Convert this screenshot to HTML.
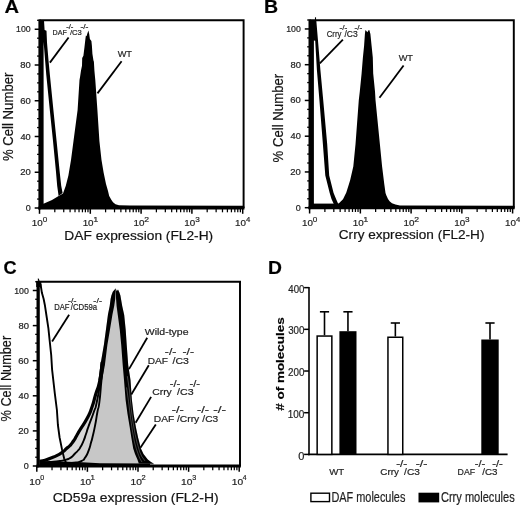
<!DOCTYPE html><html><head><meta charset="utf-8"><style>html,body{margin:0;padding:0;background:#fff;overflow:hidden;}svg{display:block;will-change:transform;}text{font-family:"Liberation Sans", sans-serif;stroke:currentColor;stroke-width:0.2px;color:#222;}</style></head><body>
<svg width="520" height="505" viewBox="0 0 520 505">
<rect width="520" height="505" fill="#fff"/>
<polygon points="40,207 41,204.5 44,203.5 52,200 58.6,196 63,193.5 65.8,185.7 68.4,175.4 71,160 73.5,141 77.6,110 79.5,80 80.2,76 81,70.6 82,65.7 82.2,58 83.4,55.8 84.4,47.8 85.4,38.9 85.9,35.4 86.6,36.2 87.2,34 88.4,30.5 89.2,34 89.9,38.9 91.4,40.9 91.9,45.8 92.4,53.8 93.4,60.2 93.9,61.7 94.4,70.6 94.9,76 95.3,80 97.4,110 99.4,141 101.5,160 103.6,172.4 106,184 108,191 109.2,196 111.3,199.8 113,202.3 115.5,204.2 119,205.2 130,205.6 243,205.8 243,208 40,208" fill="#000"/>
<polygon points="39.5,20.5 44,20.5 44.6,30 46.5,30.8 47,42.4 48.7,62.6 49.9,75 53.4,110 56.6,141 59.7,172 61.2,185.7 62.6,193 58.6,196 57.2,186 56,172 53,141 49.8,110 46.3,75 43.6,41.8 43.6,207 39.5,207" fill="#000"/>
<line x1="34.7" y1="208" x2="39.5" y2="208" stroke="#000" stroke-width="1.5"/>
<text x="25.74" y="211" font-size="8.3" textLength="5.01" lengthAdjust="spacingAndGlyphs" fill="#1e1e1e">0</text>
<line x1="37.1" y1="199.06" x2="39.5" y2="199.06" stroke="#000" stroke-width="1.3"/>
<line x1="37.1" y1="190.12" x2="39.5" y2="190.12" stroke="#000" stroke-width="1.3"/>
<line x1="37.1" y1="181.19" x2="39.5" y2="181.19" stroke="#000" stroke-width="1.3"/>
<line x1="34.7" y1="172.25" x2="39.5" y2="172.25" stroke="#000" stroke-width="1.5"/>
<text x="20.23" y="175.25" font-size="8.3" textLength="10.55" lengthAdjust="spacingAndGlyphs" fill="#1e1e1e">20</text>
<line x1="37.1" y1="163.31" x2="39.5" y2="163.31" stroke="#000" stroke-width="1.3"/>
<line x1="37.1" y1="154.38" x2="39.5" y2="154.38" stroke="#000" stroke-width="1.3"/>
<line x1="37.1" y1="145.44" x2="39.5" y2="145.44" stroke="#000" stroke-width="1.3"/>
<line x1="34.7" y1="136.5" x2="39.5" y2="136.5" stroke="#000" stroke-width="1.5"/>
<text x="20.49" y="139.5" font-size="8.3" textLength="10.28" lengthAdjust="spacingAndGlyphs" fill="#1e1e1e">40</text>
<line x1="37.1" y1="127.56" x2="39.5" y2="127.56" stroke="#000" stroke-width="1.3"/>
<line x1="37.1" y1="118.62" x2="39.5" y2="118.62" stroke="#000" stroke-width="1.3"/>
<line x1="37.1" y1="109.69" x2="39.5" y2="109.69" stroke="#000" stroke-width="1.3"/>
<line x1="34.7" y1="100.75" x2="39.5" y2="100.75" stroke="#000" stroke-width="1.5"/>
<text x="20.23" y="103.75" font-size="8.3" textLength="10.55" lengthAdjust="spacingAndGlyphs" fill="#1e1e1e">60</text>
<line x1="37.1" y1="91.81" x2="39.5" y2="91.81" stroke="#000" stroke-width="1.3"/>
<line x1="37.1" y1="82.88" x2="39.5" y2="82.88" stroke="#000" stroke-width="1.3"/>
<line x1="37.1" y1="73.94" x2="39.5" y2="73.94" stroke="#000" stroke-width="1.3"/>
<line x1="34.7" y1="65" x2="39.5" y2="65" stroke="#000" stroke-width="1.5"/>
<text x="20.3" y="68" font-size="8.3" textLength="10.48" lengthAdjust="spacingAndGlyphs" fill="#1e1e1e">80</text>
<line x1="37.1" y1="56.06" x2="39.5" y2="56.06" stroke="#000" stroke-width="1.3"/>
<line x1="37.1" y1="47.12" x2="39.5" y2="47.12" stroke="#000" stroke-width="1.3"/>
<line x1="37.1" y1="38.19" x2="39.5" y2="38.19" stroke="#000" stroke-width="1.3"/>
<line x1="34.7" y1="29.25" x2="39.5" y2="29.25" stroke="#000" stroke-width="1.5"/>
<text x="16.14" y="32.25" font-size="8.3" textLength="14.59" lengthAdjust="spacingAndGlyphs" fill="#1e1e1e">100</text>
<line x1="37.1" y1="20.31" x2="39.5" y2="20.31" stroke="#000" stroke-width="1.3"/>
<line x1="54.79" y1="208" x2="54.79" y2="212.3" stroke="#000" stroke-width="1.25"/>
<line x1="63.74" y1="208" x2="63.74" y2="212.3" stroke="#000" stroke-width="1.25"/>
<line x1="70.08" y1="208" x2="70.08" y2="212.3" stroke="#000" stroke-width="1.25"/>
<line x1="75.01" y1="208" x2="75.01" y2="212.3" stroke="#000" stroke-width="1.25"/>
<line x1="79.03" y1="208" x2="79.03" y2="212.3" stroke="#000" stroke-width="1.25"/>
<line x1="82.43" y1="208" x2="82.43" y2="212.3" stroke="#000" stroke-width="1.25"/>
<line x1="85.38" y1="208" x2="85.38" y2="212.3" stroke="#000" stroke-width="1.25"/>
<line x1="87.98" y1="208" x2="87.98" y2="212.3" stroke="#000" stroke-width="1.25"/>
<line x1="105.59" y1="208" x2="105.59" y2="212.3" stroke="#000" stroke-width="1.25"/>
<line x1="114.54" y1="208" x2="114.54" y2="212.3" stroke="#000" stroke-width="1.25"/>
<line x1="120.88" y1="208" x2="120.88" y2="212.3" stroke="#000" stroke-width="1.25"/>
<line x1="125.81" y1="208" x2="125.81" y2="212.3" stroke="#000" stroke-width="1.25"/>
<line x1="129.83" y1="208" x2="129.83" y2="212.3" stroke="#000" stroke-width="1.25"/>
<line x1="133.23" y1="208" x2="133.23" y2="212.3" stroke="#000" stroke-width="1.25"/>
<line x1="136.18" y1="208" x2="136.18" y2="212.3" stroke="#000" stroke-width="1.25"/>
<line x1="138.78" y1="208" x2="138.78" y2="212.3" stroke="#000" stroke-width="1.25"/>
<line x1="156.39" y1="208" x2="156.39" y2="212.3" stroke="#000" stroke-width="1.25"/>
<line x1="165.34" y1="208" x2="165.34" y2="212.3" stroke="#000" stroke-width="1.25"/>
<line x1="171.68" y1="208" x2="171.68" y2="212.3" stroke="#000" stroke-width="1.25"/>
<line x1="176.61" y1="208" x2="176.61" y2="212.3" stroke="#000" stroke-width="1.25"/>
<line x1="180.63" y1="208" x2="180.63" y2="212.3" stroke="#000" stroke-width="1.25"/>
<line x1="184.03" y1="208" x2="184.03" y2="212.3" stroke="#000" stroke-width="1.25"/>
<line x1="186.98" y1="208" x2="186.98" y2="212.3" stroke="#000" stroke-width="1.25"/>
<line x1="189.58" y1="208" x2="189.58" y2="212.3" stroke="#000" stroke-width="1.25"/>
<line x1="207.19" y1="208" x2="207.19" y2="212.3" stroke="#000" stroke-width="1.25"/>
<line x1="216.14" y1="208" x2="216.14" y2="212.3" stroke="#000" stroke-width="1.25"/>
<line x1="222.48" y1="208" x2="222.48" y2="212.3" stroke="#000" stroke-width="1.25"/>
<line x1="227.41" y1="208" x2="227.41" y2="212.3" stroke="#000" stroke-width="1.25"/>
<line x1="231.43" y1="208" x2="231.43" y2="212.3" stroke="#000" stroke-width="1.25"/>
<line x1="234.83" y1="208" x2="234.83" y2="212.3" stroke="#000" stroke-width="1.25"/>
<line x1="237.78" y1="208" x2="237.78" y2="212.3" stroke="#000" stroke-width="1.25"/>
<line x1="240.38" y1="208" x2="240.38" y2="212.3" stroke="#000" stroke-width="1.25"/>
<line x1="39.5" y1="208" x2="39.5" y2="213.8" stroke="#000" stroke-width="1.5"/>
<text x="31.86" y="226.4" font-size="9.2" textLength="10.93" lengthAdjust="spacingAndGlyphs" fill="#1e1e1e">10</text>
<text x="42.77" y="221.8" font-size="7.6" textLength="4.54" lengthAdjust="spacingAndGlyphs" fill="#1e1e1e">0</text>
<line x1="90.3" y1="208" x2="90.3" y2="213.8" stroke="#000" stroke-width="1.5"/>
<text x="82.66" y="226.4" font-size="9.2" textLength="10.93" lengthAdjust="spacingAndGlyphs" fill="#1e1e1e">10</text>
<text x="93.22" y="221.8" font-size="7.6" textLength="5.02" lengthAdjust="spacingAndGlyphs" fill="#1e1e1e">1</text>
<line x1="141.1" y1="208" x2="141.1" y2="213.8" stroke="#000" stroke-width="1.5"/>
<text x="133.46" y="226.4" font-size="9.2" textLength="10.93" lengthAdjust="spacingAndGlyphs" fill="#1e1e1e">10</text>
<text x="144.27" y="221.8" font-size="7.6" textLength="4.77" lengthAdjust="spacingAndGlyphs" fill="#1e1e1e">2</text>
<line x1="191.9" y1="208" x2="191.9" y2="213.8" stroke="#000" stroke-width="1.5"/>
<text x="184.26" y="226.4" font-size="9.2" textLength="10.93" lengthAdjust="spacingAndGlyphs" fill="#1e1e1e">10</text>
<text x="195.19" y="221.8" font-size="7.6" textLength="4.57" lengthAdjust="spacingAndGlyphs" fill="#1e1e1e">3</text>
<line x1="242.7" y1="208" x2="242.7" y2="213.8" stroke="#000" stroke-width="1.5"/>
<text x="235.06" y="226.4" font-size="9.2" textLength="10.93" lengthAdjust="spacingAndGlyphs" fill="#1e1e1e">10</text>
<text x="246.13" y="221.8" font-size="7.6" textLength="4.3" lengthAdjust="spacingAndGlyphs" fill="#1e1e1e">4</text>
<polyline points="39.5,20.3 243.6,20.3 243.6,208" fill="none" stroke="#000" stroke-width="1.95" stroke-linejoin="miter"/>
<line x1="39.5" y1="19.45" x2="39.5" y2="209.5" stroke="#000" stroke-width="2.2"/>
<line x1="38.4" y1="208" x2="244.5" y2="208" stroke="#000" stroke-width="3"/>
<text transform="translate(12.9,0) rotate(-90)" x="-161.06" y="0" font-size="14.4" textLength="88.45" lengthAdjust="spacingAndGlyphs" fill="#111">% Cell Number</text>
<text x="64.37" y="239.6" font-size="12.3" textLength="148.81" lengthAdjust="spacingAndGlyphs" fill="#111">DAF expression (FL2-H)</text>
<text x="4.4" y="12.7" font-size="18" font-weight="bold" textLength="14.55" lengthAdjust="spacingAndGlyphs">A</text>
<text x="52.51" y="34.6" font-size="7.9" textLength="14.27" lengthAdjust="spacingAndGlyphs" fill="#1e1e1e">DAF</text>
<text x="66.15" y="28.8" font-size="7.5" textLength="7.31" lengthAdjust="spacingAndGlyphs" fill="#1e1e1e">-/-</text>
<text x="70" y="34.6" font-size="7.9" textLength="11.83" lengthAdjust="spacingAndGlyphs" fill="#1e1e1e">/C3</text>
<text x="80.41" y="28.8" font-size="7.5" textLength="8.08" lengthAdjust="spacingAndGlyphs" fill="#1e1e1e">-/-</text>
<line x1="49.9" y1="62.6" x2="68.6" y2="37.5" stroke="#000" stroke-width="1.8"/>
<text x="117.65" y="57.4" font-size="9.6" textLength="14.35" lengthAdjust="spacingAndGlyphs" fill="#1e1e1e">WT</text>
<line x1="97.5" y1="93.4" x2="121.6" y2="61.2" stroke="#000" stroke-width="1.8"/>
<rect x="313" y="203.6" width="30" height="5" fill="#000"/>
<polygon points="337.7,204.5 338.7,203.6 343,199.2 346.3,192.5 348.9,184.3 350.2,180 353.3,166.5 355.5,144.3 358.8,100 359.8,91.4 361.6,73.6 362.9,57.6 364.1,45.7 364.9,33.9 365.3,30.6 365.8,30.3 367.3,32.3 368.8,29.9 369.4,30.2 370.4,33.9 371.6,45.7 372.8,57.6 373.2,73.6 375,91.4 375.5,100 379.9,144.3 382.1,166.5 384.3,184.3 385.5,193.1 386.4,195.5 388,199 389.6,201.2 392,203.3 395.4,204.6 400,205.4 513,205.8 513,208 337,208" fill="#000"/>
<polygon points="309,20.5 316.3,20.5 318,40.8 320.4,70 323.2,100 327.2,144.3 329.2,175.4 333.6,193 336.5,200 338.5,204.5 334,204.5 331.5,199 329.7,193 325.3,175.4 322.9,144.3 319.4,100 316.9,70 315.2,40.8 313.9,40.5 313.9,207 309,207" fill="#000"/>
<line x1="304.8" y1="207.7" x2="309.6" y2="207.7" stroke="#000" stroke-width="1.5"/>
<text x="295.84" y="210.7" font-size="8.3" textLength="5.01" lengthAdjust="spacingAndGlyphs" fill="#1e1e1e">0</text>
<line x1="307.2" y1="198.76" x2="309.6" y2="198.76" stroke="#000" stroke-width="1.3"/>
<line x1="307.2" y1="189.82" x2="309.6" y2="189.82" stroke="#000" stroke-width="1.3"/>
<line x1="307.2" y1="180.89" x2="309.6" y2="180.89" stroke="#000" stroke-width="1.3"/>
<line x1="304.8" y1="171.95" x2="309.6" y2="171.95" stroke="#000" stroke-width="1.5"/>
<text x="290.33" y="174.95" font-size="8.3" textLength="10.55" lengthAdjust="spacingAndGlyphs" fill="#1e1e1e">20</text>
<line x1="307.2" y1="163.01" x2="309.6" y2="163.01" stroke="#000" stroke-width="1.3"/>
<line x1="307.2" y1="154.07" x2="309.6" y2="154.07" stroke="#000" stroke-width="1.3"/>
<line x1="307.2" y1="145.14" x2="309.6" y2="145.14" stroke="#000" stroke-width="1.3"/>
<line x1="304.8" y1="136.2" x2="309.6" y2="136.2" stroke="#000" stroke-width="1.5"/>
<text x="290.59" y="139.2" font-size="8.3" textLength="10.28" lengthAdjust="spacingAndGlyphs" fill="#1e1e1e">40</text>
<line x1="307.2" y1="127.26" x2="309.6" y2="127.26" stroke="#000" stroke-width="1.3"/>
<line x1="307.2" y1="118.32" x2="309.6" y2="118.32" stroke="#000" stroke-width="1.3"/>
<line x1="307.2" y1="109.39" x2="309.6" y2="109.39" stroke="#000" stroke-width="1.3"/>
<line x1="304.8" y1="100.45" x2="309.6" y2="100.45" stroke="#000" stroke-width="1.5"/>
<text x="290.33" y="103.45" font-size="8.3" textLength="10.55" lengthAdjust="spacingAndGlyphs" fill="#1e1e1e">60</text>
<line x1="307.2" y1="91.51" x2="309.6" y2="91.51" stroke="#000" stroke-width="1.3"/>
<line x1="307.2" y1="82.57" x2="309.6" y2="82.57" stroke="#000" stroke-width="1.3"/>
<line x1="307.2" y1="73.64" x2="309.6" y2="73.64" stroke="#000" stroke-width="1.3"/>
<line x1="304.8" y1="64.7" x2="309.6" y2="64.7" stroke="#000" stroke-width="1.5"/>
<text x="290.4" y="67.7" font-size="8.3" textLength="10.48" lengthAdjust="spacingAndGlyphs" fill="#1e1e1e">80</text>
<line x1="307.2" y1="55.76" x2="309.6" y2="55.76" stroke="#000" stroke-width="1.3"/>
<line x1="307.2" y1="46.82" x2="309.6" y2="46.82" stroke="#000" stroke-width="1.3"/>
<line x1="307.2" y1="37.89" x2="309.6" y2="37.89" stroke="#000" stroke-width="1.3"/>
<line x1="304.8" y1="28.95" x2="309.6" y2="28.95" stroke="#000" stroke-width="1.5"/>
<text x="286.24" y="31.95" font-size="8.3" textLength="14.59" lengthAdjust="spacingAndGlyphs" fill="#1e1e1e">100</text>
<line x1="307.2" y1="20.01" x2="309.6" y2="20.01" stroke="#000" stroke-width="1.3"/>
<line x1="324.88" y1="207.7" x2="324.88" y2="212" stroke="#000" stroke-width="1.25"/>
<line x1="333.81" y1="207.7" x2="333.81" y2="212" stroke="#000" stroke-width="1.25"/>
<line x1="340.15" y1="207.7" x2="340.15" y2="212" stroke="#000" stroke-width="1.25"/>
<line x1="345.07" y1="207.7" x2="345.07" y2="212" stroke="#000" stroke-width="1.25"/>
<line x1="349.09" y1="207.7" x2="349.09" y2="212" stroke="#000" stroke-width="1.25"/>
<line x1="352.49" y1="207.7" x2="352.49" y2="212" stroke="#000" stroke-width="1.25"/>
<line x1="355.43" y1="207.7" x2="355.43" y2="212" stroke="#000" stroke-width="1.25"/>
<line x1="358.03" y1="207.7" x2="358.03" y2="212" stroke="#000" stroke-width="1.25"/>
<line x1="375.63" y1="207.7" x2="375.63" y2="212" stroke="#000" stroke-width="1.25"/>
<line x1="384.56" y1="207.7" x2="384.56" y2="212" stroke="#000" stroke-width="1.25"/>
<line x1="390.9" y1="207.7" x2="390.9" y2="212" stroke="#000" stroke-width="1.25"/>
<line x1="395.82" y1="207.7" x2="395.82" y2="212" stroke="#000" stroke-width="1.25"/>
<line x1="399.84" y1="207.7" x2="399.84" y2="212" stroke="#000" stroke-width="1.25"/>
<line x1="403.24" y1="207.7" x2="403.24" y2="212" stroke="#000" stroke-width="1.25"/>
<line x1="406.18" y1="207.7" x2="406.18" y2="212" stroke="#000" stroke-width="1.25"/>
<line x1="408.78" y1="207.7" x2="408.78" y2="212" stroke="#000" stroke-width="1.25"/>
<line x1="426.38" y1="207.7" x2="426.38" y2="212" stroke="#000" stroke-width="1.25"/>
<line x1="435.31" y1="207.7" x2="435.31" y2="212" stroke="#000" stroke-width="1.25"/>
<line x1="441.65" y1="207.7" x2="441.65" y2="212" stroke="#000" stroke-width="1.25"/>
<line x1="446.57" y1="207.7" x2="446.57" y2="212" stroke="#000" stroke-width="1.25"/>
<line x1="450.59" y1="207.7" x2="450.59" y2="212" stroke="#000" stroke-width="1.25"/>
<line x1="453.99" y1="207.7" x2="453.99" y2="212" stroke="#000" stroke-width="1.25"/>
<line x1="456.93" y1="207.7" x2="456.93" y2="212" stroke="#000" stroke-width="1.25"/>
<line x1="459.53" y1="207.7" x2="459.53" y2="212" stroke="#000" stroke-width="1.25"/>
<line x1="477.13" y1="207.7" x2="477.13" y2="212" stroke="#000" stroke-width="1.25"/>
<line x1="486.06" y1="207.7" x2="486.06" y2="212" stroke="#000" stroke-width="1.25"/>
<line x1="492.4" y1="207.7" x2="492.4" y2="212" stroke="#000" stroke-width="1.25"/>
<line x1="497.32" y1="207.7" x2="497.32" y2="212" stroke="#000" stroke-width="1.25"/>
<line x1="501.34" y1="207.7" x2="501.34" y2="212" stroke="#000" stroke-width="1.25"/>
<line x1="504.74" y1="207.7" x2="504.74" y2="212" stroke="#000" stroke-width="1.25"/>
<line x1="507.68" y1="207.7" x2="507.68" y2="212" stroke="#000" stroke-width="1.25"/>
<line x1="510.28" y1="207.7" x2="510.28" y2="212" stroke="#000" stroke-width="1.25"/>
<line x1="309.6" y1="207.7" x2="309.6" y2="213.5" stroke="#000" stroke-width="1.5"/>
<text x="301.96" y="226.4" font-size="9.2" textLength="10.93" lengthAdjust="spacingAndGlyphs" fill="#1e1e1e">10</text>
<text x="312.87" y="221.8" font-size="7.6" textLength="4.54" lengthAdjust="spacingAndGlyphs" fill="#1e1e1e">0</text>
<line x1="360.35" y1="207.7" x2="360.35" y2="213.5" stroke="#000" stroke-width="1.5"/>
<text x="352.71" y="226.4" font-size="9.2" textLength="10.93" lengthAdjust="spacingAndGlyphs" fill="#1e1e1e">10</text>
<text x="363.27" y="221.8" font-size="7.6" textLength="5.02" lengthAdjust="spacingAndGlyphs" fill="#1e1e1e">1</text>
<line x1="411.1" y1="207.7" x2="411.1" y2="213.5" stroke="#000" stroke-width="1.5"/>
<text x="403.46" y="226.4" font-size="9.2" textLength="10.93" lengthAdjust="spacingAndGlyphs" fill="#1e1e1e">10</text>
<text x="414.27" y="221.8" font-size="7.6" textLength="4.77" lengthAdjust="spacingAndGlyphs" fill="#1e1e1e">2</text>
<line x1="461.85" y1="207.7" x2="461.85" y2="213.5" stroke="#000" stroke-width="1.5"/>
<text x="454.21" y="226.4" font-size="9.2" textLength="10.93" lengthAdjust="spacingAndGlyphs" fill="#1e1e1e">10</text>
<text x="465.14" y="221.8" font-size="7.6" textLength="4.57" lengthAdjust="spacingAndGlyphs" fill="#1e1e1e">3</text>
<line x1="512.6" y1="207.7" x2="512.6" y2="213.5" stroke="#000" stroke-width="1.5"/>
<text x="504.96" y="226.4" font-size="9.2" textLength="10.93" lengthAdjust="spacingAndGlyphs" fill="#1e1e1e">10</text>
<text x="516.03" y="221.8" font-size="7.6" textLength="4.3" lengthAdjust="spacingAndGlyphs" fill="#1e1e1e">4</text>
<polyline points="309.6,20.3 513.8,20.3 513.8,207.7" fill="none" stroke="#000" stroke-width="1.95" stroke-linejoin="miter"/>
<line x1="309.6" y1="19.45" x2="309.6" y2="209.2" stroke="#000" stroke-width="2.2"/>
<line x1="308.5" y1="207.7" x2="514.7" y2="207.7" stroke="#000" stroke-width="3"/>
<line x1="315.5" y1="17.3" x2="315.5" y2="21" stroke="#000" stroke-width="1.1"/>
<text transform="translate(282.9,0) rotate(-90)" x="-162.46" y="0" font-size="14.4" textLength="88.65" lengthAdjust="spacingAndGlyphs" fill="#111">% Cell Number</text>
<text x="338.82" y="239.4" font-size="12.3" textLength="145.62" lengthAdjust="spacingAndGlyphs" fill="#111">Crry expression (FL2-H)</text>
<text x="264.08" y="12.6" font-size="18" font-weight="bold" textLength="14.09" lengthAdjust="spacingAndGlyphs">B</text>
<text x="326.71" y="36.7" font-size="8.6" textLength="14.71" lengthAdjust="spacingAndGlyphs" fill="#1e1e1e">Crry</text>
<text x="339.43" y="30" font-size="7.5" textLength="7.86" lengthAdjust="spacingAndGlyphs" fill="#1e1e1e">-/-</text>
<text x="344.4" y="36.7" font-size="8.6" textLength="13.27" lengthAdjust="spacingAndGlyphs" fill="#1e1e1e">/C3</text>
<text x="354.43" y="30" font-size="7.5" textLength="7.86" lengthAdjust="spacingAndGlyphs" fill="#1e1e1e">-/-</text>
<line x1="319.8" y1="63.3" x2="342.9" y2="39.6" stroke="#000" stroke-width="1.8"/>
<text x="398.65" y="60.9" font-size="9.6" textLength="14.35" lengthAdjust="spacingAndGlyphs" fill="#1e1e1e">WT</text>
<line x1="379.5" y1="97.7" x2="403.6" y2="65.5" stroke="#000" stroke-width="1.8"/>
<polygon points="115.6,288.5 112.8,291.7 111.4,295.5 110.6,298.9 109.7,305.9 108,314.2 105.9,329.9 103.9,344.7 100.4,365 98.5,380 95.5,395 92,407 87.3,418 79.9,430 76.5,436 73.5,441 70,445.5 66.5,448.5 62.3,452.3 56.7,455.6 51,458 45,460.2 39.5,461.3 39.5,466 154,466 154,463.8 151,462 147.8,459.6 143.5,454 140.9,448.5 138.2,438 136,427.7 133.6,414 131.9,400 130.5,380 128.2,365 126.7,344.7 125.7,329.9 124.2,315 122.2,305.9 120.4,295.5 119.4,292.4 118,289.4 116.8,291.2 115.6,288.2" fill="#c7c7c7"/>
<polygon points="102.2,362 99.9,380 95.5,395 92,407 87.3,418 79.9,430 76.5,436 73.5,441 70,445.5 66.5,448.5 62.3,452.3 56.7,455.6 51,458 45,460.2 39.5,461.3 42,462.4 50,462 60,461 66.3,459.6 70.8,457.6 75,453.5 78,450.5 80.5,447 83.5,441 86,434 88.7,425.9 93.8,412 96.8,402 100.6,380 103,362" fill="#d8d8d8"/>
<polygon points="103,362 100.6,380 96.8,402 93.8,412 88.7,425.9 86,434 83.5,441 80.5,447 78,450.5 75,453.5 70.8,457.6 66.3,459.6 60,461 50,462 42,462.4 70,463 76.1,462.5 81.8,460.8 85.3,457.3 88.7,450.4 91.1,442.3 92.3,438 95,425.9 97.4,412 99.4,402 101.5,380 103.6,362" fill="#d2d2d2"/>
<polygon points="115.6,288.5 112.8,291.7 111.4,295.5 110.6,298.9 109.7,305.9 108,314.2 105.9,329.9 103.9,344.7 100.4,365 98.5,380 102.1,380 104.9,365 107.4,344.7 109.9,329.9 112.5,314.2 114.2,305.9 115.2,298.9 115.4,292" fill="#000"/>
<polygon points="115.6,291 116,298 116.6,305.9 117.8,315 119.8,329.9 121.2,344.7 122.7,365 124,380 125.6,400 127.5,414 129.8,427.7 131.4,438 133.2,448.5 135,454 137.4,459.6 138.3,462 138.8,463.5 154,463.8 151,462 147.8,459.6 143.5,454 140.9,448.5 138.2,438 136,427.7 133.6,414 131.9,400 130.5,380 128.2,365 126.7,344.7 125.7,329.9 124.2,315 122.2,305.9 120.4,295.5 119.4,292.4 118,289.4 116.8,291.2 115.6,288.2" fill="#000"/>
<polyline points="126.54,387.4 128.58,401.76 130.56,417.73 132.19,429.36 134.21,441.01 136.15,448.24 138.66,455.6 140.17,459.12 142.04,462.1" fill="none" stroke="#7a7a7a" stroke-width="0.55" stroke-linejoin="round"/>
<polyline points="127.37,376.2 129.54,390.88 131.23,408.86 132.9,421.68 135.1,434.36 137.18,443.12 139.78,452.05 141.84,456.56 144.92,460.85" fill="none" stroke="#8a8a8a" stroke-width="0.5" stroke-linejoin="round"/>
<polygon points="39.5,461.3 60,461.6 82,462.2 100,463.3 150,463.5 150,467 39.5,467" fill="#000"/>
<path d="M102.2,362 C101.43,368 102.13,369 99.9,380 C97.67,391 98.13,386 95.5,395 C92.87,404 94.73,399.33 92,407 C89.27,414.67 91.33,410.33 87.3,418 C83.27,425.67 83.5,424 79.9,430 C76.3,436 78.63,432.33 76.5,436 C74.37,439.67 75.67,437.83 73.5,441 C71.33,444.17 72.33,443 70,445.5 C67.67,448 69.07,446.23 66.5,448.5 C63.93,450.77 65.57,449.93 62.3,452.3 C59.03,454.67 60.47,453.7 56.7,455.6 C52.93,457.5 54.9,456.47 51,458 C47.1,459.53 48.83,459.1 45,460.2 C41.17,461.3 41.33,460.93 39.5,461.3" fill="none" stroke="#000" stroke-width="3.2" stroke-linejoin="round"/>
<path d="M103,362 C102.2,368 102.67,366.67 100.6,380 C98.53,393.33 99.07,391.33 96.8,402 C94.53,412.67 96.5,404.03 93.8,412 C91.1,419.97 91.3,418.57 88.7,425.9 C86.1,433.23 87.73,428.97 86,434 C84.27,439.03 85.33,436.67 83.5,441 C81.67,445.33 82.33,443.83 80.5,447 C78.67,450.17 79.83,448.33 78,450.5 C76.17,452.67 77.4,451.13 75,453.5 C72.6,455.87 73.7,455.57 70.8,457.6 C67.9,459.63 69.9,458.47 66.3,459.6 C62.7,460.73 65.43,460.2 60,461 C54.57,461.8 56,461.53 50,462 C44,462.47 44.67,462.27 42,462.4" fill="none" stroke="#000" stroke-width="1.9" stroke-linejoin="round"/>
<path d="M103.6,362 C102.9,368 102.9,366.67 101.5,380 C100.1,393.33 100.77,391.33 99.4,402 C98.03,412.67 98.87,404.03 97.4,412 C95.93,419.97 96.7,417.23 95,425.9 C93.3,434.57 93.6,432.53 92.3,438 C91,443.47 92.3,438.17 91.1,442.3 C89.9,446.43 90.63,445.4 88.7,450.4 C86.77,455.4 87.6,453.83 85.3,457.3 C83,460.77 84.87,459.07 81.8,460.8 C78.73,462.53 80.03,461.77 76.1,462.5 C72.17,463.23 72.03,462.83 70,463" fill="none" stroke="#000" stroke-width="1.9" stroke-linejoin="round"/>
<polygon points="36.2,281 41.3,281 41.3,287 36.2,287" fill="#000"/>
<polyline points="38.2,278.6 39.2,282" fill="none" stroke="#000" stroke-width="1.2" stroke-linejoin="round"/>
<polyline points="40.5,284 41.9,292.8 43.6,298.7 44.8,304.7 46.6,316.5 48.4,328.4 49.6,340 51.2,355 52.1,369.6 54.8,393.4 56.9,410 57.9,425 59.6,437.5 62.1,449.9 64.1,458.3 65.8,462.4 70,464 78,465" fill="none" stroke="#000" stroke-width="1.9" stroke-linejoin="round"/>
<line x1="38.6" y1="281" x2="38.6" y2="466" stroke="#000" stroke-width="2.4"/>
<line x1="32.8" y1="466" x2="37.6" y2="466" stroke="#000" stroke-width="1.5"/>
<text x="23.84" y="469" font-size="8.3" textLength="5.01" lengthAdjust="spacingAndGlyphs" fill="#1e1e1e">0</text>
<line x1="35.2" y1="457.23" x2="37.6" y2="457.23" stroke="#000" stroke-width="1.3"/>
<line x1="35.2" y1="448.45" x2="37.6" y2="448.45" stroke="#000" stroke-width="1.3"/>
<line x1="35.2" y1="439.68" x2="37.6" y2="439.68" stroke="#000" stroke-width="1.3"/>
<line x1="32.8" y1="430.9" x2="37.6" y2="430.9" stroke="#000" stroke-width="1.5"/>
<text x="18.33" y="433.9" font-size="8.3" textLength="10.55" lengthAdjust="spacingAndGlyphs" fill="#1e1e1e">20</text>
<line x1="35.2" y1="422.12" x2="37.6" y2="422.12" stroke="#000" stroke-width="1.3"/>
<line x1="35.2" y1="413.35" x2="37.6" y2="413.35" stroke="#000" stroke-width="1.3"/>
<line x1="35.2" y1="404.57" x2="37.6" y2="404.57" stroke="#000" stroke-width="1.3"/>
<line x1="32.8" y1="395.8" x2="37.6" y2="395.8" stroke="#000" stroke-width="1.5"/>
<text x="18.59" y="398.8" font-size="8.3" textLength="10.28" lengthAdjust="spacingAndGlyphs" fill="#1e1e1e">40</text>
<line x1="35.2" y1="387.02" x2="37.6" y2="387.02" stroke="#000" stroke-width="1.3"/>
<line x1="35.2" y1="378.25" x2="37.6" y2="378.25" stroke="#000" stroke-width="1.3"/>
<line x1="35.2" y1="369.48" x2="37.6" y2="369.48" stroke="#000" stroke-width="1.3"/>
<line x1="32.8" y1="360.7" x2="37.6" y2="360.7" stroke="#000" stroke-width="1.5"/>
<text x="18.33" y="363.7" font-size="8.3" textLength="10.55" lengthAdjust="spacingAndGlyphs" fill="#1e1e1e">60</text>
<line x1="35.2" y1="351.93" x2="37.6" y2="351.93" stroke="#000" stroke-width="1.3"/>
<line x1="35.2" y1="343.15" x2="37.6" y2="343.15" stroke="#000" stroke-width="1.3"/>
<line x1="35.2" y1="334.38" x2="37.6" y2="334.38" stroke="#000" stroke-width="1.3"/>
<line x1="32.8" y1="325.6" x2="37.6" y2="325.6" stroke="#000" stroke-width="1.5"/>
<text x="18.4" y="328.6" font-size="8.3" textLength="10.48" lengthAdjust="spacingAndGlyphs" fill="#1e1e1e">80</text>
<line x1="35.2" y1="316.83" x2="37.6" y2="316.83" stroke="#000" stroke-width="1.3"/>
<line x1="35.2" y1="308.05" x2="37.6" y2="308.05" stroke="#000" stroke-width="1.3"/>
<line x1="35.2" y1="299.27" x2="37.6" y2="299.27" stroke="#000" stroke-width="1.3"/>
<line x1="32.8" y1="290.5" x2="37.6" y2="290.5" stroke="#000" stroke-width="1.5"/>
<text x="14.24" y="293.5" font-size="8.3" textLength="14.59" lengthAdjust="spacingAndGlyphs" fill="#1e1e1e">100</text>
<line x1="35.2" y1="281.73" x2="37.6" y2="281.73" stroke="#000" stroke-width="1.3"/>
<line x1="52.03" y1="466" x2="52.03" y2="470.3" stroke="#000" stroke-width="1.25"/>
<line x1="60.94" y1="466" x2="60.94" y2="470.3" stroke="#000" stroke-width="1.25"/>
<line x1="67.26" y1="466" x2="67.26" y2="470.3" stroke="#000" stroke-width="1.25"/>
<line x1="72.17" y1="466" x2="72.17" y2="470.3" stroke="#000" stroke-width="1.25"/>
<line x1="76.17" y1="466" x2="76.17" y2="470.3" stroke="#000" stroke-width="1.25"/>
<line x1="79.56" y1="466" x2="79.56" y2="470.3" stroke="#000" stroke-width="1.25"/>
<line x1="82.5" y1="466" x2="82.5" y2="470.3" stroke="#000" stroke-width="1.25"/>
<line x1="85.08" y1="466" x2="85.08" y2="470.3" stroke="#000" stroke-width="1.25"/>
<line x1="102.63" y1="466" x2="102.63" y2="470.3" stroke="#000" stroke-width="1.25"/>
<line x1="111.54" y1="466" x2="111.54" y2="470.3" stroke="#000" stroke-width="1.25"/>
<line x1="117.86" y1="466" x2="117.86" y2="470.3" stroke="#000" stroke-width="1.25"/>
<line x1="122.77" y1="466" x2="122.77" y2="470.3" stroke="#000" stroke-width="1.25"/>
<line x1="126.77" y1="466" x2="126.77" y2="470.3" stroke="#000" stroke-width="1.25"/>
<line x1="130.16" y1="466" x2="130.16" y2="470.3" stroke="#000" stroke-width="1.25"/>
<line x1="133.1" y1="466" x2="133.1" y2="470.3" stroke="#000" stroke-width="1.25"/>
<line x1="135.68" y1="466" x2="135.68" y2="470.3" stroke="#000" stroke-width="1.25"/>
<line x1="153.23" y1="466" x2="153.23" y2="470.3" stroke="#000" stroke-width="1.25"/>
<line x1="162.14" y1="466" x2="162.14" y2="470.3" stroke="#000" stroke-width="1.25"/>
<line x1="168.46" y1="466" x2="168.46" y2="470.3" stroke="#000" stroke-width="1.25"/>
<line x1="173.37" y1="466" x2="173.37" y2="470.3" stroke="#000" stroke-width="1.25"/>
<line x1="177.37" y1="466" x2="177.37" y2="470.3" stroke="#000" stroke-width="1.25"/>
<line x1="180.76" y1="466" x2="180.76" y2="470.3" stroke="#000" stroke-width="1.25"/>
<line x1="183.7" y1="466" x2="183.7" y2="470.3" stroke="#000" stroke-width="1.25"/>
<line x1="186.28" y1="466" x2="186.28" y2="470.3" stroke="#000" stroke-width="1.25"/>
<line x1="203.83" y1="466" x2="203.83" y2="470.3" stroke="#000" stroke-width="1.25"/>
<line x1="212.74" y1="466" x2="212.74" y2="470.3" stroke="#000" stroke-width="1.25"/>
<line x1="219.06" y1="466" x2="219.06" y2="470.3" stroke="#000" stroke-width="1.25"/>
<line x1="223.97" y1="466" x2="223.97" y2="470.3" stroke="#000" stroke-width="1.25"/>
<line x1="227.97" y1="466" x2="227.97" y2="470.3" stroke="#000" stroke-width="1.25"/>
<line x1="231.36" y1="466" x2="231.36" y2="470.3" stroke="#000" stroke-width="1.25"/>
<line x1="234.3" y1="466" x2="234.3" y2="470.3" stroke="#000" stroke-width="1.25"/>
<line x1="236.88" y1="466" x2="236.88" y2="470.3" stroke="#000" stroke-width="1.25"/>
<line x1="36.8" y1="466" x2="36.8" y2="471.8" stroke="#000" stroke-width="1.5"/>
<text x="29.33" y="484.7" font-size="9.2" textLength="11.37" lengthAdjust="spacingAndGlyphs" fill="#1e1e1e">10</text>
<text x="40.32" y="480.4" font-size="7.3" textLength="3.96" lengthAdjust="spacingAndGlyphs" fill="#1e1e1e">0</text>
<line x1="87.4" y1="466" x2="87.4" y2="471.8" stroke="#000" stroke-width="1.5"/>
<text x="79.93" y="484.7" font-size="9.2" textLength="11.37" lengthAdjust="spacingAndGlyphs" fill="#1e1e1e">10</text>
<text x="90.61" y="480.4" font-size="7.3" textLength="4.37" lengthAdjust="spacingAndGlyphs" fill="#1e1e1e">1</text>
<line x1="138" y1="466" x2="138" y2="471.8" stroke="#000" stroke-width="1.5"/>
<text x="130.53" y="484.7" font-size="9.2" textLength="11.37" lengthAdjust="spacingAndGlyphs" fill="#1e1e1e">10</text>
<text x="141.43" y="480.4" font-size="7.3" textLength="4.16" lengthAdjust="spacingAndGlyphs" fill="#1e1e1e">2</text>
<line x1="188.6" y1="466" x2="188.6" y2="471.8" stroke="#000" stroke-width="1.5"/>
<text x="181.13" y="484.7" font-size="9.2" textLength="11.37" lengthAdjust="spacingAndGlyphs" fill="#1e1e1e">10</text>
<text x="192.13" y="480.4" font-size="7.3" textLength="3.98" lengthAdjust="spacingAndGlyphs" fill="#1e1e1e">3</text>
<line x1="239.2" y1="466" x2="239.2" y2="471.8" stroke="#000" stroke-width="1.5"/>
<text x="231.73" y="484.7" font-size="9.2" textLength="11.37" lengthAdjust="spacingAndGlyphs" fill="#1e1e1e">10</text>
<text x="242.85" y="480.4" font-size="7.3" textLength="3.74" lengthAdjust="spacingAndGlyphs" fill="#1e1e1e">4</text>
<polyline points="37.6,281.7 240,281.7 240,466" fill="none" stroke="#000" stroke-width="1.95" stroke-linejoin="miter"/>
<line x1="37.6" y1="280.85" x2="37.6" y2="467.5" stroke="#000" stroke-width="2.2"/>
<line x1="36.5" y1="466" x2="240.9" y2="466" stroke="#000" stroke-width="3"/>
<text transform="translate(11,0) rotate(-90)" x="-421.45" y="0" font-size="14" textLength="85.63" lengthAdjust="spacingAndGlyphs" fill="#111">% Cell Number</text>
<text x="52.71" y="501.5" font-size="11.9" textLength="165.88" lengthAdjust="spacingAndGlyphs" fill="#111">CD59a expression (FL2-H)</text>
<text x="3.57" y="273.6" font-size="18" font-weight="bold" textLength="13.12" lengthAdjust="spacingAndGlyphs">C</text>
<text x="54.27" y="310" font-size="8.6" textLength="15.23" lengthAdjust="spacingAndGlyphs" fill="#1e1e1e">DAF</text>
<text x="68.1" y="302.5" font-size="7.5" textLength="8.3" lengthAdjust="spacingAndGlyphs" fill="#1e1e1e">-/-</text>
<text x="70.8" y="310" font-size="8.6" textLength="26.41" lengthAdjust="spacingAndGlyphs" fill="#1e1e1e">/CD59a</text>
<text x="93.39" y="302.5" font-size="7.5" textLength="8.53" lengthAdjust="spacingAndGlyphs" fill="#1e1e1e">-/-</text>
<line x1="52.1" y1="341.4" x2="69.1" y2="314.7" stroke="#000" stroke-width="1.8"/>
<text x="144.75" y="334.6" font-size="9.4" textLength="43.8" lengthAdjust="spacingAndGlyphs" fill="#1e1e1e">Wild-type</text>
<line x1="129" y1="369.1" x2="147.2" y2="337.7" stroke="#000" stroke-width="1.8"/>
<text x="147.67" y="363.6" font-size="9.6" textLength="20.24" lengthAdjust="spacingAndGlyphs" fill="#1e1e1e">DAF</text>
<text x="164.85" y="355.4" font-size="9" textLength="11.51" lengthAdjust="spacingAndGlyphs" fill="#1e1e1e">-/-</text>
<text x="172.5" y="363.6" font-size="9.6" textLength="16.36" lengthAdjust="spacingAndGlyphs" fill="#1e1e1e">/C3</text>
<text x="182.55" y="355.4" font-size="9" textLength="11.51" lengthAdjust="spacingAndGlyphs" fill="#1e1e1e">-/-</text>
<line x1="131.3" y1="394.5" x2="148.8" y2="365.2" stroke="#000" stroke-width="1.8"/>
<text x="152.18" y="395.3" font-size="9.6" textLength="19.65" lengthAdjust="spacingAndGlyphs" fill="#1e1e1e">Crry</text>
<text x="169.7" y="387.3" font-size="9" textLength="10.52" lengthAdjust="spacingAndGlyphs" fill="#1e1e1e">-/-</text>
<text x="177" y="395.3" font-size="9.6" textLength="16.57" lengthAdjust="spacingAndGlyphs" fill="#1e1e1e">/C3</text>
<text x="189.5" y="387.3" font-size="9" textLength="10.52" lengthAdjust="spacingAndGlyphs" fill="#1e1e1e">-/-</text>
<line x1="135.6" y1="422.7" x2="151.1" y2="396.9" stroke="#000" stroke-width="1.8"/>
<text x="153.76" y="422.3" font-size="9.4" textLength="20.45" lengthAdjust="spacingAndGlyphs" fill="#1e1e1e">DAF</text>
<text x="171.73" y="413.3" font-size="9" textLength="11.96" lengthAdjust="spacingAndGlyphs" fill="#1e1e1e">-/-</text>
<text x="176.9" y="422.3" font-size="9.4" textLength="22.34" lengthAdjust="spacingAndGlyphs" fill="#1e1e1e">/Crry</text>
<text x="197.13" y="413.3" font-size="9" textLength="11.96" lengthAdjust="spacingAndGlyphs" fill="#1e1e1e">-/-</text>
<text x="202.3" y="422.3" font-size="9.4" textLength="15.85" lengthAdjust="spacingAndGlyphs" fill="#1e1e1e">/C3</text>
<text x="213.19" y="413.3" font-size="9" textLength="12.84" lengthAdjust="spacingAndGlyphs" fill="#1e1e1e">-/-</text>
<line x1="140.4" y1="447.7" x2="155.8" y2="424.6" stroke="#000" stroke-width="1.8"/>
<text x="268.1" y="273.6" font-size="18" font-weight="bold" textLength="13.91" lengthAdjust="spacingAndGlyphs">D</text>
<line x1="309" y1="286.89" x2="309" y2="455.2" stroke="#000" stroke-width="1.6"/>
<line x1="308.2" y1="454.4" x2="507.6" y2="454.4" stroke="#000" stroke-width="1.7"/>
<line x1="304.1" y1="454.4" x2="309" y2="454.4" stroke="#000" stroke-width="1.5"/>
<text x="298.26" y="459.5" font-size="11.2" textLength="6.17" lengthAdjust="spacingAndGlyphs" fill="#1e1e1e">0</text>
<line x1="304.1" y1="412.71" x2="309" y2="412.71" stroke="#000" stroke-width="1.5"/>
<text x="287.75" y="417.81" font-size="11.2" textLength="16.63" lengthAdjust="spacingAndGlyphs" fill="#1e1e1e">100</text>
<line x1="304.1" y1="371.02" x2="309" y2="371.02" stroke="#000" stroke-width="1.5"/>
<text x="288.01" y="376.12" font-size="11.2" textLength="16.37" lengthAdjust="spacingAndGlyphs" fill="#1e1e1e">200</text>
<line x1="304.1" y1="329.33" x2="309" y2="329.33" stroke="#000" stroke-width="1.5"/>
<text x="288.14" y="334.43" font-size="11.2" textLength="16.24" lengthAdjust="spacingAndGlyphs" fill="#1e1e1e">300</text>
<line x1="304.1" y1="287.64" x2="309" y2="287.64" stroke="#000" stroke-width="1.5"/>
<text x="288.28" y="292.74" font-size="11.2" textLength="16.09" lengthAdjust="spacingAndGlyphs" fill="#1e1e1e">400</text>
<text transform="translate(284,0) rotate(-90)" x="-410.74" y="0" font-size="11.6" font-weight="bold" textLength="93.5" lengthAdjust="spacingAndGlyphs"># of molecules</text>
<rect x="317.15" y="336.05" width="14.7" height="118.35" fill="#fff" stroke="#000" stroke-width="1.5"/>
<line x1="324.5" y1="311.8" x2="324.5" y2="335.3" stroke="#000" stroke-width="1.6"/>
<line x1="319.9" y1="311.8" x2="329.1" y2="311.8" stroke="#000" stroke-width="1.6"/>
<rect x="339.4" y="331.2" width="17.1" height="123.2" fill="#000"/>
<line x1="347.95" y1="311.8" x2="347.95" y2="331.2" stroke="#000" stroke-width="1.6"/>
<line x1="343.35" y1="311.8" x2="352.55" y2="311.8" stroke="#000" stroke-width="1.6"/>
<rect x="387.95" y="337.25" width="14.8" height="117.15" fill="#fff" stroke="#000" stroke-width="1.5"/>
<line x1="395.35" y1="323" x2="395.35" y2="336.5" stroke="#000" stroke-width="1.6"/>
<line x1="390.75" y1="323" x2="399.95" y2="323" stroke="#000" stroke-width="1.6"/>
<rect x="481.3" y="339.5" width="17.4" height="114.9" fill="#000"/>
<line x1="490" y1="323" x2="490" y2="339.5" stroke="#000" stroke-width="1.6"/>
<line x1="485.4" y1="323" x2="494.6" y2="323" stroke="#000" stroke-width="1.6"/>
<text x="329.15" y="474.7" font-size="9.8" textLength="15.06" lengthAdjust="spacingAndGlyphs" fill="#1e1e1e">WT</text>
<text x="380.31" y="474.5" font-size="9.8" textLength="18.52" lengthAdjust="spacingAndGlyphs" fill="#1e1e1e">Crry</text>
<text x="396.17" y="467" font-size="8.5" textLength="11.07" lengthAdjust="spacingAndGlyphs" fill="#1e1e1e">-/-</text>
<text x="404.1" y="474.5" font-size="9.8" textLength="15.74" lengthAdjust="spacingAndGlyphs" fill="#1e1e1e">/C3</text>
<text x="415.74" y="467" font-size="8.5" textLength="11.74" lengthAdjust="spacingAndGlyphs" fill="#1e1e1e">-/-</text>
<text x="457.57" y="474.5" font-size="9.8" textLength="17.58" lengthAdjust="spacingAndGlyphs" fill="#1e1e1e">DAF</text>
<text x="474.8" y="467" font-size="8.5" textLength="10.52" lengthAdjust="spacingAndGlyphs" fill="#1e1e1e">-/-</text>
<text x="482.2" y="474.5" font-size="9.8" textLength="15.23" lengthAdjust="spacingAndGlyphs" fill="#1e1e1e">/C3</text>
<text x="492.19" y="467" font-size="8.5" textLength="10.63" lengthAdjust="spacingAndGlyphs" fill="#1e1e1e">-/-</text>
<rect x="310.9" y="493.2" width="18.6" height="8.4" fill="#fff" stroke="#000" stroke-width="1.4"/>
<text x="331.4" y="501.6" font-size="14" textLength="73.98" lengthAdjust="spacingAndGlyphs" fill="#1e1e1e">DAF molecules</text>
<rect x="418.5" y="492.7" width="20.7" height="9.7" fill="#000"/>
<text x="440.95" y="501.6" font-size="14" textLength="73.75" lengthAdjust="spacingAndGlyphs" fill="#1e1e1e">Crry molecules</text>
</svg></body></html>
